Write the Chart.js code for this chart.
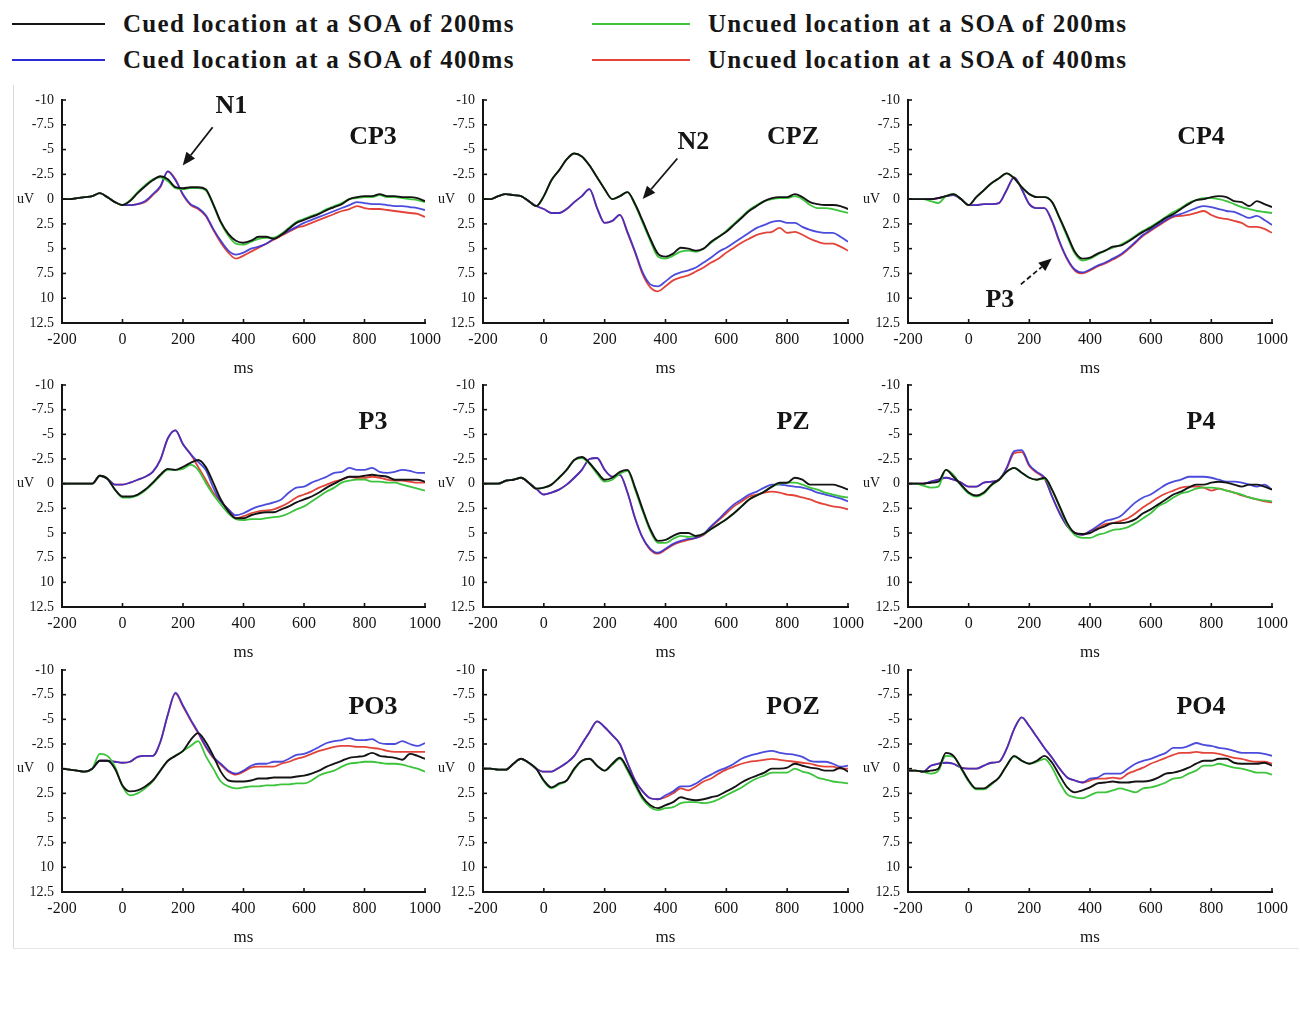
<!DOCTYPE html>
<html>
<head>
<meta charset="utf-8">
<script src="https://cdn.jsdelivr.net/npm/chart.js@4.4.1/dist/chart.umd.min.js"></script>
<style>
html,body{margin:0;padding:0;background:#fff;}
#page{position:relative;width:1300px;height:1014px;background:#fff;overflow:hidden;font-family:"Liberation Serif","Times New Roman",serif;}
.panel{position:absolute;}
.leg-line{position:absolute;height:2px;}
.leg-text{position:absolute;font-weight:bold;font-size:25px;letter-spacing:1.3px;line-height:30px;color:#161616;white-space:nowrap;}
#frame{position:absolute;left:13px;top:85px;width:1285px;height:863px;border-left:1px solid #d9d9d9;border-bottom:1px solid #e6e6e6;}
</style>
</head>
<body>
<div id="page">
  <div id="frame"></div>
  <div id="legend"></div>
</div>
<script>
// ---------------- DATA ----------------
const times = [-200,-175,-150,-125,-100,-75,-50,-25,0,25,50,75,100,125,150,175,200,225,250,275,300,325,350,375,400,425,450,475,500,525,550,575,600,625,650,675,700,725,750,775,800,825,850,875,900,925,950,975,1000];
const xTicks = [-200,0,200,400,600,800,1000];
const yTicks = [-10,-7.5,-5,-2.5,0,2.5,5,7.5,10,12.5];
const seriesNames = ['Cued location at a SOA of 200ms','Uncued location at a SOA of 200ms','Cued location at a SOA of 400ms','Uncued location at a SOA of 400ms'];
const electrodes = ['CP3','CPZ','CP4','P3','PZ','P4','PO3','POZ','PO4'];

// CP3
const cp3_cued200   = [0,0,-0.1,-0.2,-0.3,-0.6,-0.2,0.3,0.6, 0.2,-0.6,-1.3,-1.9,-2.3,-2.0,-1.2,-1.1,-1.2,-1.2, -1.0,0.5,2.3,3.5,4.2,4.4,4.2,3.8,3.8,4.0, 3.6,3.0,2.4,2.1,1.8,1.5,1.1,0.8,0.5,0.0, -0.2,-0.3,-0.3,-0.5,-0.3,-0.3,-0.2,-0.2,-0.1,0.2];
const cp3_uncued200 = [0,0,-0.1,-0.2,-0.3,-0.6,-0.2,0.3,0.6, 0.1,-0.7,-1.4,-2.0,-2.2,-1.8,-1.1,-1.0,-1.1,-1.1, -0.9,0.6,2.4,3.7,4.5,4.6,4.3,4.0,3.9,3.9, 3.5,2.9,2.3,2.0,1.7,1.4,1.0,0.7,0.4,0.0, -0.1,-0.2,-0.2,-0.4,-0.2,-0.2,-0.1,0.0,0.1,0.3];
const cp3_cued400   = [0,0,-0.1,-0.2,-0.3,-0.6,-0.2,0.3,0.6, 0.6,0.5,0.2,-0.5,-1.3,-2.8,-1.9,-0.5,0.5,0.9, 1.6,3.0,4.2,5.2,5.6,5.4,5.0,4.8,4.5,4.0, 3.6,3.2,2.8,2.4,2.1,1.8,1.5,1.2,0.9,0.6, 0.3,0.4,0.5,0.5,0.6,0.7,0.7,0.8,0.9,1.1];
const cp3_uncued400 = [0,0,-0.1,-0.2,-0.3,-0.6,-0.2,0.3,0.6, 0.6,0.5,0.3,-0.4,-1.2,-2.8,-2.0,-0.4,0.6,1.0, 1.7,3.1,4.4,5.4,6.0,5.7,5.3,4.9,4.5,4.1, 3.7,3.3,2.9,2.7,2.4,2.1,1.8,1.5,1.2,1.0, 0.7,0.9,1.0,1.0,1.1,1.2,1.3,1.4,1.5,1.8];
// CPZ
const cpz_cued200   = [0,0,-0.3,-0.5,-0.4,-0.3,0.2,0.7, -0.3,-1.9,-2.9,-4.0,-4.6,-4.3,-3.4,-2.2,-1.0,0.0, -0.3,-0.7,0.5,2.2,4.0,5.5,5.8,5.5,4.9,5.0, 5.2,5.0,4.3,3.8,3.3,2.6,1.9,1.2,0.7,0.2, -0.1,-0.2,-0.2,-0.5,-0.2,0.3,0.5,0.6,0.6,0.7,1.0];
const cpz_uncued200 = [0,0,-0.3,-0.5,-0.4,-0.3,0.2,0.7, -0.3,-1.9,-2.9,-4.0,-4.6,-4.3,-3.4,-2.2,-1.0,0.0, -0.3,-0.7,0.6,2.4,4.2,5.8,6.0,5.7,5.3,5.2, 5.3,5.0,4.4,3.8,3.2,2.5,1.8,1.1,0.6,0.2, 0.0,-0.1,-0.1,-0.3,0.0,0.6,0.9,0.9,1.0,1.2,1.4];
const cpz_cued400   = [0,0,-0.3,-0.5,-0.4,-0.3,0.2,0.7, 1.0,1.4,1.4,1.0,0.3,-0.3,-1.0,0.9,2.4,2.2, 1.6,3.3,5.3,7.4,8.6,8.8,8.3,7.7,7.4,7.2, 6.9,6.4,5.9,5.3,4.9,4.4,3.9,3.4,2.9,2.6, 2.3,2.2,2.4,2.4,2.8,3.1,3.3,3.4,3.4,3.8,4.3];
const cpz_uncued400 = [0,0,-0.3,-0.5,-0.4,-0.3,0.2,0.7, 1.0,1.4,1.4,1.0,0.3,-0.3,-1.0,0.9,2.4,2.2, 1.6,3.4,5.4,7.6,8.9,9.3,8.8,8.2,7.9,7.7, 7.3,6.9,6.4,6.0,5.4,4.9,4.4,4.0,3.6,3.4, 3.3,2.9,3.4,3.3,3.6,4.0,4.3,4.5,4.5,4.8,5.2];
// CP4
const cp4_cued200   = [0,0,0,0,-0.1,-0.3,-0.5,0.0, 0.6,-0.2,-0.9,-1.6,-2.1,-2.6,-2.1,-1.2,-0.5,-0.2, -0.2,0.3,1.9,3.6,5.3,6.0,5.9,5.5,5.2,4.8, 4.7,4.3,3.8,3.3,2.9,2.4,1.9,1.5,1.0,0.5, 0.1,0.0,-0.2,-0.3,-0.2,0.2,0.3,0.7,0.2,0.5,0.8];
const cp4_uncued200 = [0,0,0,0.2,0.4,-0.3,-0.5,0.0, 0.6,-0.2,-0.9,-1.6,-2.1,-2.6,-2.1,-1.2,-0.5,-0.2, -0.2,0.3,2.0,3.8,5.5,6.2,6.0,5.6,5.2,4.9, 4.6,4.2,3.7,3.2,2.8,2.3,1.8,1.3,0.9,0.4, 0.1,-0.1,-0.1,0.0,0.2,0.5,0.8,1.0,1.2,1.3,1.4];
const cp4_cued400   = [0,0,0,0,-0.1,-0.3,-0.4,0.0, 0.6,0.6,0.5,0.5,0.4,-0.9,-2.2,-1.0,0.5,0.9, 0.9,2.2,4.3,6.0,7.1,7.4,7.1,6.7,6.4,6.0, 5.6,5.0,4.3,3.6,3.1,2.6,2.1,1.7,1.5,1.2, 0.9,0.7,0.8,1.0,1.2,1.3,1.6,1.9,1.7,2.1,2.6];
const cp4_uncued400 = [0,0,0,0,-0.1,-0.3,-0.4,0.0, 0.6,0.6,0.5,0.5,0.4,-0.9,-2.2,-1.0,0.5,0.9, 0.9,2.3,4.4,6.1,7.2,7.5,7.2,6.8,6.5,6.1, 5.7,5.1,4.4,3.7,3.2,2.7,2.2,1.8,1.7,1.6, 1.4,1.2,1.6,1.9,2.0,2.2,2.4,2.8,2.8,3.0,3.4];
// P3
const p3_cued200    = [0,0,0,0,0,-0.8,-0.5, 0.6,1.3,1.3,1.1,0.6,-0.1,-0.9,-1.5,-1.4,-1.7, -2.1,-2.4,-1.7,-0.1,1.6,2.8,3.5,3.5,3.2,3.0, 2.9,2.9,2.6,2.3,1.9,1.6,1.3,0.9,0.4,0.0, -0.4,-0.7,-0.7,-0.8,-0.9,-0.8,-0.7,-0.4,-0.4,-0.4,-0.4,-0.2];
const p3_uncued200  = [0,0,0,0,0,-0.8,-0.5, 0.6,1.4,1.4,1.2,0.7,0.0,-0.8,-1.4,-1.4,-1.5, -1.9,-1.4,-0.1,1.1,2.1,3.0,3.6,3.7,3.6,3.6, 3.5,3.4,3.3,3.0,2.6,2.3,1.8,1.3,0.8,0.4, -0.1,-0.3,-0.4,-0.4,-0.2,-0.2,-0.1,-0.1,0.1,0.3,0.5,0.7];
const p3_cued400    = [0,0,0,0,0,-0.8,-0.5, 0.1,0.1,-0.1,-0.4,-0.7,-1.2,-2.4,-4.6,-5.4,-4.0, -3.0,-2.2,-1.4,0.4,1.8,2.6,3.2,3.0,2.6,2.3, 2.1,1.9,1.6,0.9,0.4,0.3,-0.1,-0.4,-0.7,-1.1, -1.2,-1.6,-1.4,-1.4,-1.6,-1.2,-1.1,-1.2,-1.4,-1.3,-1.1,-1.1];
const p3_uncued400  = [0,0,0,0,0,-0.8,-0.5, 0.1,0.1,-0.1,-0.4,-0.7,-1.2,-2.4,-4.6,-5.4,-4.0, -3.0,-1.7,-0.4,0.9,1.8,2.6,3.5,3.3,3.0,2.8, 2.7,2.6,2.3,1.9,1.4,1.1,0.8,0.4,0.1,-0.2, -0.4,-0.7,-0.6,-0.6,-0.7,-0.6,-0.4,-0.3,-0.3,-0.2,-0.1,-0.1];
// PZ
const pz_cued200    = [0,0,0,-0.3,-0.4,-0.6,-0.1,0.5, 0.4,0.1,-0.6,-1.4,-2.4,-2.7,-2.1,-1.2,-0.4,-0.6, -1.2,-1.4,0.4,2.6,4.6,5.8,5.7,5.3,5.0,5.0, 5.3,5.1,4.6,4.1,3.6,3.0,2.3,1.6,1.2,0.8, 0.3,-0.1,-0.1,-0.6,-0.4,0.1,0.1,0.1,0.1,0.3,0.6];
const pz_uncued200  = [0,0,0,-0.3,-0.4,-0.6,-0.1,0.5, 0.4,0.1,-0.6,-1.4,-2.4,-2.6,-2.0,-1.0,-0.2,-0.4, -1.0,-1.3,0.6,2.8,4.8,6.0,6.0,5.6,5.3,5.4, 5.3,5.1,4.6,4.1,3.6,3.0,2.3,1.6,1.2,0.8, 0.3,0.0,-0.1,-0.1,0.1,0.4,0.6,0.9,1.1,1.3,1.4];
const pz_cued400    = [0,0,0,-0.3,-0.4,-0.6,-0.1,0.5, 1.1,0.9,0.6,0.1,-0.6,-1.4,-2.5,-2.6,-1.4,-0.7, -0.9,0.9,3.5,5.5,6.6,7.0,6.6,6.1,5.8,5.6, 5.5,5.1,4.3,3.6,2.8,2.1,1.6,1.1,0.8,0.4, 0.1,0.1,0.2,0.3,0.4,0.6,0.9,1.1,1.3,1.5,1.8];
const pz_uncued400  = [0,0,0,-0.3,-0.4,-0.6,-0.1,0.5, 1.1,0.9,0.6,0.1,-0.6,-1.4,-2.5,-2.6,-1.4,-0.7, -0.9,0.9,3.5,5.5,6.7,7.1,6.7,6.2,5.9,5.7, 5.5,5.2,4.4,3.7,3.0,2.3,1.8,1.3,1.1,0.9, 0.8,0.9,1.1,1.2,1.4,1.6,1.9,2.1,2.3,2.4,2.6];
// P4
const p4_cued200    = [0,0,0,-0.1,-0.2,-1.4,-0.7,0.1, 0.9,1.2,0.9,0.1,-0.4,-1.2,-1.6,-1.1,-0.6,-0.4, -0.6,0.6,2.3,4.0,5.0,5.1,5.0,4.6,4.3,4.0, 4.0,3.9,3.6,3.0,2.6,2.1,1.6,1.1,0.8,0.4, 0.1,0.1,-0.1,-0.2,-0.1,0.1,0.3,0.1,0.1,0.3,0.6];
const p4_uncued200  = [0,0,0.2,0.4,0.3,-1.4,-0.9,0.2, 1.0,1.3,1.0,0.2,-0.4,-1.2,-1.6,-1.1,-0.6,-0.4, -0.5,0.7,2.4,4.2,5.2,5.5,5.5,5.2,5.0,4.7, 4.6,4.4,4.0,3.5,3.0,2.3,1.9,1.4,1.0,0.8, 0.5,0.4,0.4,0.5,0.7,0.9,1.1,1.4,1.6,1.7,1.8];
const p4_cued400    = [0,0,0,-0.2,-0.4,-0.6,-0.4,-0.1, 0.3,0.3,-0.1,-0.2,-0.4,-1.6,-3.3,-3.4,-1.9,-1.2, -0.6,1.3,3.0,4.3,5.0,5.2,4.8,4.3,3.8,3.6, 3.3,2.6,1.9,1.4,1.1,0.6,0.1,-0.2,-0.4,-0.7, -0.7,-0.7,-0.6,-0.4,-0.2,-0.2,-0.1,0.1,0.3,0.1,0.6];
const p4_uncued400  = [0,0,0,-0.2,-0.4,-0.6,-0.4,-0.1, 0.3,0.3,-0.1,-0.2,-0.4,-1.5,-3.1,-3.2,-1.8,-1.1, -0.5,1.3,3.0,4.3,5.0,5.2,4.8,4.5,4.1,4.0, 3.8,3.5,3.0,2.4,1.9,1.4,1.0,0.7,0.4,0.3, 0.3,0.4,0.7,0.5,0.7,0.9,1.2,1.4,1.6,1.8,1.9];
// PO3
const po3_cued200   = [0,0.1,0.2,0.3,0,-0.8,-0.8, 0.0,1.7,2.3,2.2,1.8,1.2,0.2,-0.8,-1.3,-1.8, -2.9,-3.6,-2.7,-1.3,0.3,1.2,1.3,1.3,1.2,1.0, 1.0,0.9,0.9,0.9,0.8,0.7,0.5,0.2,-0.2,-0.5, -0.8,-1.1,-1.2,-1.3,-1.6,-1.3,-1.2,-1.1,-0.9,-1.5,-1.3,-1.0];
const po3_uncued200 = [0,0.1,0.2,0.3,0,-1.5,-1.3, -0.2,1.8,2.7,2.5,2.0,1.3,0.2,-0.8,-1.3,-1.8, -2.3,-2.8,-1.3,0.0,1.3,1.8,2.0,1.9,1.8,1.8, 1.7,1.7,1.6,1.6,1.5,1.5,1.2,0.7,0.4,0.2, -0.2,-0.5,-0.6,-0.7,-0.7,-0.6,-0.5,-0.5,-0.4,-0.2,0.0,0.3];
const po3_cued400   = [0,0.1,0.2,0.3,0,-0.8,-0.8, -0.7,-0.6,-0.7,-1.2,-1.3,-1.3,-2.7,-5.5,-7.7,-6.4, -5.0,-3.7,-2.3,-1.2,-0.5,0.2,0.5,0.2,-0.3,-0.5, -0.5,-0.7,-0.7,-1.0,-1.4,-1.5,-1.8,-2.2,-2.6,-2.8, -2.9,-3.1,-2.9,-2.9,-3.0,-2.6,-2.5,-2.5,-2.8,-2.5,-2.3,-2.6];
const po3_uncued400 = [0,0.1,0.2,0.3,0,-0.8,-0.8, -0.7,-0.6,-0.7,-1.2,-1.3,-1.3,-2.7,-5.5,-7.6,-6.3, -4.9,-3.6,-2.2,-1.1,-0.4,0.3,0.6,0.3,-0.1,-0.2, -0.2,-0.2,-0.5,-0.7,-1.0,-1.2,-1.5,-1.8,-2.0,-2.2, -2.3,-2.3,-2.2,-2.2,-2.1,-2.0,-1.8,-1.7,-1.7,-1.7,-1.7,-1.7];
// POZ
const poz_cued200   = [0,0,0.1,0.1,-0.5,-1.0,-0.6,0.0, 1.2,1.9,1.5,1.2,0.0,-0.8,-1.0,-0.3,0.2,-0.5, -1.1,0.0,1.5,2.9,3.7,4.0,3.7,3.4,2.9,3.1, 3.2,3.1,2.9,2.7,2.3,1.9,1.4,1.0,0.7,0.4, 0.0,0.0,-0.1,-0.5,-0.3,-0.1,0.0,0.2,0.2,-0.1,0.3];
const poz_uncued200 = [0,0,0.1,0.1,-0.5,-1.0,-0.6,0.0, 1.3,2.0,1.6,1.2,0.1,-0.8,-1.0,-0.3,0.2,-0.4, -1.0,0.2,1.7,3.1,3.9,4.2,4.0,3.9,3.5,3.4, 3.4,3.5,3.4,3.1,2.7,2.3,1.9,1.4,1.0,0.7, 0.4,0.4,0.4,0.0,0.3,0.5,0.9,1.1,1.3,1.4,1.5];
const poz_cued400   = [0,0,0.1,0.1,-0.5,-1.0,-0.6,0.0, 0.3,0.3,-0.1,-0.6,-1.3,-2.5,-3.7,-4.8,-4.2,-3.4, -2.5,-0.6,1.2,2.3,3.0,3.1,2.7,2.3,1.8,1.8, 1.5,1.0,0.6,0.2,-0.1,-0.5,-1.0,-1.3,-1.5,-1.7, -1.8,-1.6,-1.5,-1.4,-1.2,-0.8,-0.7,-0.7,-0.5,-0.2,-0.3];
const poz_uncued400 = [0,0,0.1,0.1,-0.5,-1.0,-0.6,0.0, 0.3,0.3,-0.1,-0.6,-1.3,-2.5,-3.7,-4.8,-4.2,-3.4, -2.5,-0.6,1.2,2.3,3.0,3.1,2.9,2.5,2.0,2.2, 1.8,1.3,1.0,0.5,0.1,-0.2,-0.5,-0.7,-0.8,-0.9, -1.0,-0.9,-0.8,-0.7,-0.6,-0.5,-0.3,-0.2,-0.2,0.0,0.0];
// PO4
const po4_cued200   = [0.2,0.2,0.3,0.2,0.0,-1.6,-1.3,-0.1, 1.2,2.0,2.0,1.5,0.9,-0.3,-1.3,-0.8,-0.5,-0.8, -1.3,-0.6,0.7,1.9,2.4,2.2,1.9,1.5,1.4,1.3, 1.4,1.4,1.3,1.3,1.2,0.9,0.5,0.4,0.2,-0.1, -0.5,-0.8,-0.8,-1.0,-1.0,-0.6,-0.5,-0.5,-0.5,-0.6,-0.3];
const po4_uncued200 = [0.2,0.2,0.3,0.5,0.2,-1.3,-1.2,0.0, 1.3,2.1,2.1,1.6,0.9,-0.3,-1.2,-0.8,-0.5,-0.7, -1.0,-0.1,1.4,2.6,2.9,3.0,2.7,2.4,2.4,2.2, 2.0,2.2,2.4,2.0,1.9,1.7,1.4,1.0,0.9,0.5, 0.2,-0.3,-0.3,-0.5,-0.3,-0.1,0.0,0.2,0.4,0.4,0.6];
const po4_cued400   = [0.2,0.2,0.3,-0.3,-0.5,-0.6,-0.5,-0.1, 0.0,0.0,-0.3,-0.6,-0.7,-2.0,-4.0,-5.2,-4.3,-3.2, -2.1,-1.1,0.0,0.9,1.2,1.4,1.0,0.9,0.5,0.5, 0.5,0.0,-0.5,-0.8,-1.0,-1.3,-1.6,-2.1,-2.1,-2.3, -2.6,-2.4,-2.3,-2.1,-2.0,-1.8,-1.6,-1.6,-1.6,-1.5,-1.3];
const po4_uncued400 = [0.2,0.2,0.3,-0.3,-0.5,-0.6,-0.5,-0.1, 0.0,0.0,-0.3,-0.6,-0.7,-2.0,-4.0,-5.2,-4.3,-3.2, -2.1,-1.1,0.0,0.9,1.2,1.4,1.2,1.0,1.0,0.9, 1.0,0.5,0.2,-0.1,-0.5,-0.8,-1.1,-1.4,-1.6,-1.6, -1.7,-1.6,-1.6,-1.5,-1.3,-1.1,-1.0,-0.8,-0.7,-0.7,-0.5];

// ---------------- STYLE / LAYOUT ----------------
const seriesColors = ['#141414','#3cc43c','#2b2bd6','#e2443a'];
const colLeft = [62,483,908], colRight = [426,849,1273];
const rowTop = [100,385,670], rowBottom = [323,607,892];
const titleDx = [311,310,293];
const padTop = 20, padRight = 22, yAxisW = 62, xAxisH = 60;

// annotations in data coordinates (ms, uV) keyed by panel index
const notes = {
  0: [{text:'N1', t:360, v:-9.4, from:[298,-7.25], to:[199,-3.4], dashed:false}],
  1: [{text:'N2', t:492, v:-5.7, from:[439,-4.1], to:[325,0.0], dashed:false}],
  2: [{text:'P3', t:103, v:10.2, from:[172,8.6], to:[274,6.0], dashed:true}]
};

const panelSeries = [
  [cp3_cued200,cp3_uncued200,cp3_cued400,cp3_uncued400],
  [cpz_cued200,cpz_uncued200,cpz_cued400,cpz_uncued400],
  [cp4_cued200,cp4_uncued200,cp4_cued400,cp4_uncued400],
  [p3_cued200,p3_uncued200,p3_cued400,p3_uncued400],
  [pz_cued200,pz_uncued200,pz_cued400,pz_uncued400],
  [p4_cued200,p4_uncued200,p4_cued400,p4_uncued400],
  [po3_cued200,po3_uncued200,po3_cued400,po3_uncued400],
  [poz_cued200,poz_uncued200,poz_cued400,poz_uncued400],
  [po4_cued200,po4_uncued200,po4_cued400,po4_uncued400]
];

// ---------------- LEGEND (HTML text) ----------------
const legendPos = [
  {lx:12, lw:93, tx:123, cy:24},
  {lx:592, lw:98, tx:708, cy:24},
  {lx:12, lw:93, tx:123, cy:60},
  {lx:592, lw:98, tx:708, cy:60}
];
const legEl = document.getElementById('legend');
seriesNames.forEach((nm, si) => {
  const p = legendPos[si];
  const line = document.createElement('div');
  line.className = 'leg-line';
  line.style.left = p.lx + 'px'; line.style.width = p.lw + 'px';
  line.style.top = (p.cy - 1) + 'px'; line.style.background = seriesColors[si];
  legEl.appendChild(line);
  const tx = document.createElement('div');
  tx.className = 'leg-text';
  tx.style.left = p.tx + 'px'; tx.style.top = (p.cy - 15) + 'px';
  tx.textContent = nm;
  legEl.appendChild(tx);
});

// ---------------- PLUGIN ----------------
const FONT = '"Liberation Serif","Times New Roman",serif';
Chart.defaults.font.family = FONT;

function arrow(ctx, x0, y0, x1, y1, dashed) {
  const ang = Math.atan2(y1 - y0, x1 - x0);
  const hl = 13, hw = 5.5;
  const bx = x1 - hl * Math.cos(ang), by = y1 - hl * Math.sin(ang);
  ctx.beginPath();
  if (dashed) ctx.setLineDash([5, 3]);
  ctx.moveTo(x0, y0); ctx.lineTo(bx, by); ctx.stroke();
  ctx.setLineDash([]);
  ctx.beginPath();
  ctx.moveTo(x1, y1);
  ctx.lineTo(bx + hw * Math.sin(ang), by - hw * Math.cos(ang));
  ctx.lineTo(bx - hw * Math.sin(ang), by + hw * Math.cos(ang));
  ctx.closePath(); ctx.fill();
}

const decor = {
  id: 'decor',
  afterDraw(chart, args, opts) {
    const {ctx, chartArea: a, scales: {x, y}} = chart;
    ctx.save();
    ctx.strokeStyle = '#141414'; ctx.fillStyle = '#141414'; ctx.lineWidth = 1.6;
    yTicks.forEach(v => { const py = y.getPixelForValue(v); ctx.beginPath(); ctx.moveTo(a.left, py); ctx.lineTo(a.left + 4, py); ctx.stroke(); });
    xTicks.forEach(v => { const px = x.getPixelForValue(v); ctx.beginPath(); ctx.moveTo(px, a.bottom); ctx.lineTo(px, a.bottom - 4); ctx.stroke(); });
    ctx.font = '14px ' + FONT; ctx.textAlign = 'right'; ctx.textBaseline = 'middle';
    ctx.fillText('uV', a.left - 28, y.getPixelForValue(0));
    ctx.font = 'bold 26px ' + FONT; ctx.textAlign = 'center';
    ctx.fillText(opts.title, a.left + opts.dx, a.top + 37);
    (opts.notes || []).forEach(n => {
      ctx.font = 'bold 26px ' + FONT;
      ctx.fillText(n.text, x.getPixelForValue(n.t), y.getPixelForValue(n.v));
      ctx.lineWidth = 1.8;
      arrow(ctx, x.getPixelForValue(n.from[0]), y.getPixelForValue(n.from[1]),
                 x.getPixelForValue(n.to[0]), y.getPixelForValue(n.to[1]), n.dashed);
    });
    ctx.restore();
  }
};

// ---------------- CHARTS ----------------
const page = document.getElementById('page');
electrodes.forEach((name, k) => {
  const r = Math.floor(k / 3), c = k % 3;
  const w = colRight[c] - colLeft[c] + yAxisW + padRight;
  const h = rowBottom[r] - rowTop[r] + padTop + xAxisH;
  const cv = document.createElement('canvas');
  cv.className = 'panel';
  cv.width = w; cv.height = h;
  cv.style.left = (colLeft[c] - yAxisW) + 'px';
  cv.style.top = (rowTop[r] - padTop) + 'px';
  cv.style.width = w + 'px'; cv.style.height = h + 'px';
  page.appendChild(cv);

  const series = panelSeries[k];
  const datasets = seriesNames.map((nm, i) => ({
    label: nm,
    data: times.map((t, j) => ({x: t, y: series[i][j]})),
    borderColor: i === 2 ? 'rgba(43,43,214,0.85)' : seriesColors[i],
    borderWidth: i === 0 ? 1.9 : 1.8,
    pointRadius: 0,
    cubicInterpolationMode: 'monotone',
    fill: false
  }));

  new Chart(cv, {
    type: 'line',
    data: {datasets},
    plugins: [decor],
    options: {
      responsive: false,
      animation: false,
      layout: {padding: {top: padTop, right: padRight, left: 0, bottom: 0}},
      plugins: {
        legend: {display: false},
        tooltip: {enabled: false},
        decor: {title: name, dx: titleDx[c], notes: notes[k] || []}
      },
      scales: {
        x: {
          type: 'linear', min: -200, max: 1000,
          afterBuildTicks: s => { s.ticks = xTicks.map(v => ({value: v})); },
          afterFit: s => { s.height = xAxisH; },
          grid: {display: false, drawTicks: false},
          border: {display: true, color: '#141414', width: 2},
          ticks: {font: {size: 16}, color: '#141414', padding: 7, maxRotation: 0, autoSkip: false, callback: v => String(v)},
          title: {display: true, text: 'ms', font: {size: 17}, color: '#141414', padding: {top: 0, bottom: 4}}
        },
        y: {
          type: 'linear', reverse: true, min: -10, max: 12.5,
          afterBuildTicks: s => { s.ticks = yTicks.map(v => ({value: v})); },
          afterFit: s => { s.width = yAxisW; },
          grid: {display: false, drawTicks: false},
          border: {display: true, color: '#141414', width: 2},
          ticks: {font: {size: 14}, color: '#141414', padding: 8, autoSkip: false, callback: v => String(v)}
        }
      }
    }
  });
});
</script>
</body>
</html>
